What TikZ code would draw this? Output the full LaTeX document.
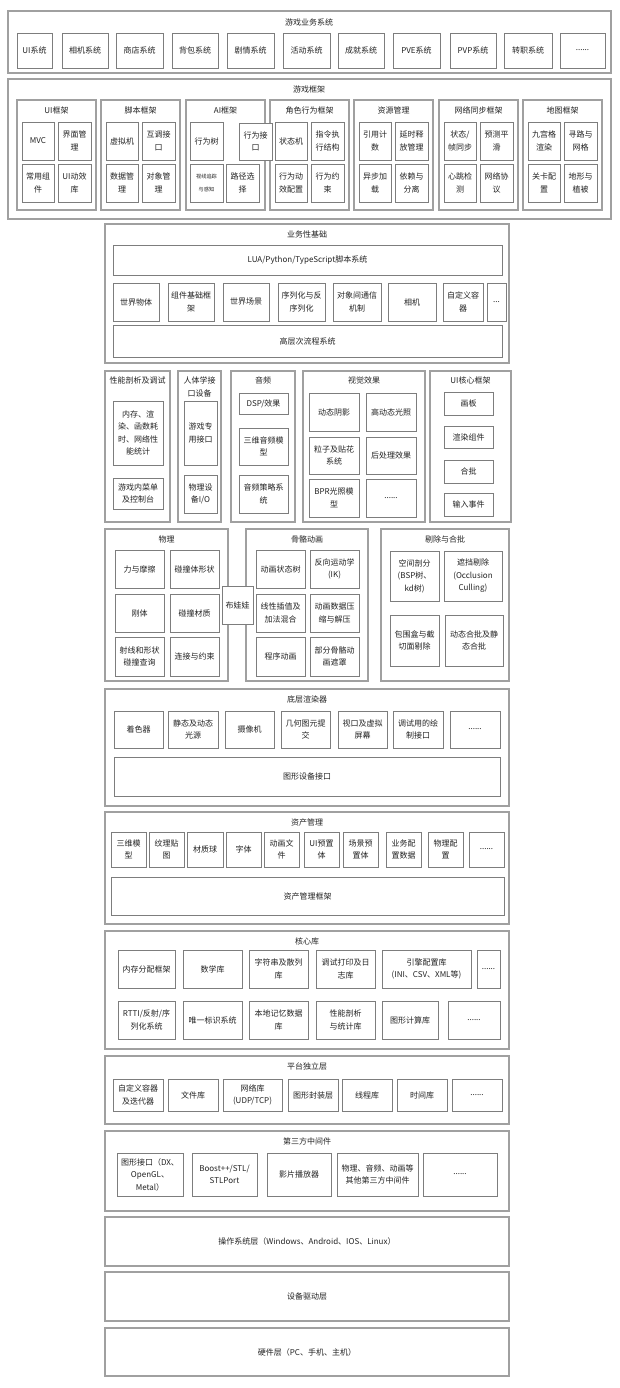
\documentclass[tikz,border=0pt]{standalone}
\usepackage{fontspec}
\setmainfont{Noto Sans CJK SC}
\definecolor{fc}{RGB}{160,160,160}
\definecolor{bc}{RGB}{125,125,125}
\definecolor{tc}{RGB}{35,35,35}
\newcommand{\fs}{\fontsize{8}{12.5}\selectfont}
\newcommand{\fst}{\fontsize{5.2}{7}\selectfont}
\tikzset{
  frm/.style={draw=fc, line width=1.1pt, fill=white, inner sep=0pt},
  box/.style={draw=bc, line width=0.8pt, fill=white, inner sep=0pt, align=center, text=tc, font=\fs},
  ttl/.style={inner sep=0pt, align=center, text=tc, font=\fs}
}
\newcommand{\mybox}[6]{\node[box, minimum width={#4pt-#2pt}, minimum height={#5pt-#3pt}] (#1) at ({(#2+#4)/2},{(#3+#5)/2}) {#6};}
\newcommand{\myframe}[5]{\node[frm, minimum width={#4pt-#2pt}, minimum height={#5pt-#3pt}] (#1) at ({(#2+#4)/2},{(#3+#5)/2}) {};}
\newcommand{\mytitle}[4]{\node[ttl] (#1) at (#2,#3) {#4};}
\begin{document}
\begin{tikzpicture}[x=1pt,y=-1pt]
\fill[white] (0,0) rectangle (619,1388);
\path[use as bounding box] (0,0) rectangle (619,1388);

% ===== 游戏业务系统 =====
\myframe{A}{8}{11}{611}{73}
\mytitle{At}{309}{22}{游戏业务系统}
\mybox{A1}{17}{33}{52}{68}{UI系统}
\mybox{A2}{62}{33}{108}{68}{相机系统}
\mybox{A3}{116}{33}{163}{68}{商店系统}
\mybox{A4}{172}{33}{218}{68}{背包系统}
\mybox{A5}{227}{33}{274}{68}{剧情系统}
\mybox{A6}{283}{33}{330}{68}{活动系统}
\mybox{A7}{338}{33}{384}{68}{成就系统}
\mybox{A8}{393}{33}{440}{68}{PVE系统}
\mybox{A9}{450}{33}{496}{68}{PVP系统}
\mybox{A10}{504}{33}{552}{68}{转职系统}
\mybox{A11}{560}{33}{605}{68}{......}

% ===== 游戏框架 =====
\myframe{B}{8}{79}{611}{219}
\mytitle{Bt}{309}{89}{游戏框架}
% UI框架
\myframe{B1}{17}{100}{96}{210}
\mytitle{B1t}{56.5}{110}{UI框架}
\mybox{B1a}{22}{122}{54}{160}{MVC}
\mybox{B1b}{58}{122}{91}{160}{界面管\\理}
\mybox{B1c}{22}{164}{54}{202}{常用组\\件}
\mybox{B1d}{58}{164}{91}{202}{UI动效\\库}
% 脚本框架
\myframe{B2}{101}{100}{180}{210}
\mytitle{B2t}{140.5}{110}{脚本框架}
\mybox{B2a}{106}{122}{138}{160}{虚拟机}
\mybox{B2b}{142}{122}{175}{160}{互调接\\口}
\mybox{B2c}{106}{164}{138}{202}{数据管\\理}
\mybox{B2d}{142}{164}{175}{202}{对象管\\理}
% AI框架
\myframe{B3}{186}{100}{265}{210}
\mytitle{B3t}{225.5}{110}{AI框架}
\mybox{B3a}{190}{122}{223}{160}{行为树}
\mybox{B3c}{190}{164}{223}{202}{\fst 视线追踪\\\fst 与感知}
\mybox{B3d}{226}{164}{259}{202}{路径选\\择}
% 角色行为框架
\myframe{B4}{270}{100}{349}{210}
\mytitle{B4t}{309.5}{110}{角色行为框架}
\mybox{B4a}{275}{122}{307}{160}{状态机}
\mybox{B4b}{311}{122}{344}{160}{指令执\\行结构}
\mybox{B4c}{275}{164}{307}{202}{行为动\\效配置}
\mybox{B4d}{311}{164}{344}{202}{行为约\\束}
\mybox{B3b}{239}{123}{272}{160}{行为接\\口}
% 资源管理
\myframe{B5}{354}{100}{433}{210}
\mytitle{B5t}{393.5}{110}{资源管理}
\mybox{B5a}{359}{122}{391}{160}{引用计\\数}
\mybox{B5b}{395}{122}{428}{160}{延时释\\放管理}
\mybox{B5c}{359}{164}{391}{202}{异步加\\载}
\mybox{B5d}{395}{164}{428}{202}{依赖与\\分离}
% 网络同步框架
\myframe{B6}{439}{100}{518}{210}
\mytitle{B6t}{478.5}{110}{网络同步框架}
\mybox{B6a}{444}{122}{476}{160}{状态/\\帧同步}
\mybox{B6b}{480}{122}{513}{160}{预测平\\滑}
\mybox{B6c}{444}{164}{476}{202}{心跳检\\测}
\mybox{B6d}{480}{164}{513}{202}{网络协\\议}
% 地图框架
\myframe{B7}{523}{100}{602}{210}
\mytitle{B7t}{562.5}{110}{地图框架}
\mybox{B7a}{528}{122}{560}{160}{九宫格\\渲染}
\mybox{B7b}{564}{122}{597}{160}{寻路与\\网格}
\mybox{B7c}{528}{164}{560}{202}{关卡配\\置}
\mybox{B7d}{564}{164}{597}{202}{地形与\\植被}

% ===== 业务性基础 =====
\myframe{C}{105}{224}{509}{363}
\mytitle{Ct}{307}{234}{业务性基础}
\mybox{C0}{113}{245}{502}{275}{LUA/Python/TypeScript脚本系统}
\mybox{C1}{113}{283}{159}{321}{世界物体}
\mybox{C2}{168}{283}{214}{321}{组件基础框\\架}
\mybox{C3}{223}{283}{269}{321}{世界场景}
\mybox{C4}{278}{283}{325}{321}{序列化与反\\序列化}
\mybox{C5}{333}{283}{381}{321}{对象间通信\\机制}
\mybox{C6}{388}{283}{436}{321}{相机}
\mybox{C7}{443}{283}{483}{321}{自定义容\\器}
\mybox{C8}{487}{283}{506}{321}{...}
\mybox{C9}{113}{325}{502}{357}{高层次流程系统}

% ===== 性能剖析 / 人体学 / 音频 / 视觉 / UI核心 =====
\myframe{D1}{105}{371}{170}{522}
\mytitle{D1t}{137.5}{380}{性能剖析及调试}
\mybox{D1a}{113}{401}{163}{465}{内存、渲\\染、函数耗\\时、网络性\\能统计}
\mybox{D1b}{113}{478}{163}{509}{游戏内菜单\\及控制台}

\myframe{D2}{178}{371}{221}{522}
\mytitle{D2t}{199.5}{387}{人体学接\\口设备}
\mybox{D2a}{184}{401}{217}{465}{游戏专\\用接口}
\mybox{D2b}{184}{475}{217}{513}{物理设\\备I/O}

\myframe{D3}{231}{371}{295}{522}
\mytitle{D3t}{263}{380}{音频}
\mybox{D3a}{239}{393}{288}{414}{DSP/效果}
\mybox{D3b}{239}{428}{288}{465}{三维音频模\\型}
\mybox{D3c}{239}{475}{288}{513}{音频策略系\\统}

\myframe{D4}{303}{371}{425}{522}
\mytitle{D4t}{364}{380}{视觉效果}
\mybox{D4a}{309}{393}{359}{431}{动态阴影}
\mybox{D4b}{366}{393}{416}{431}{高动态光照}
\mybox{D4c}{309}{437}{359}{474}{粒子及贴花\\系统}
\mybox{D4d}{366}{437}{416}{474}{后处理效果}
\mybox{D4e}{309}{479}{359}{517}{BPR光照模\\型}
\mybox{D4f}{366}{479}{416}{517}{......}

\myframe{D5}{430}{371}{511}{522}
\mytitle{D5t}{470.5}{380}{UI核心框架}
\mybox{D5a}{444}{392}{493}{415}{画板}
\mybox{D5b}{444}{426}{493}{448}{渲染组件}
\mybox{D5c}{444}{460}{493}{483}{合批}
\mybox{D5d}{444}{493}{493}{516}{输入事件}

% ===== 物理 / 骨骼动画 / 剔除与合批 =====
\myframe{E1}{105}{529}{228}{681}
\mytitle{E1t}{166.5}{539}{物理}
\mybox{E1a}{115}{550}{164}{588}{力与摩擦}
\mybox{E1b}{170}{550}{219}{588}{碰撞体形状}
\mybox{E1c}{115}{594}{164}{632}{刚体}
\mybox{E1d}{170}{594}{219}{632}{碰撞材质}
\mybox{E1e}{115}{637}{164}{676}{射线和形状\\碰撞查询}
\mybox{E1f}{170}{637}{219}{676}{连接与约束}

\myframe{E2}{246}{529}{368}{681}
\mytitle{E2t}{307}{539}{骨骼动画}
\mybox{E2a}{256}{550}{305}{588}{动画状态树}
\mybox{E2b}{310}{550}{359}{588}{反向运动学\\(IK)}
\mybox{E2c}{256}{594}{305}{632}{线性插值及\\加法混合}
\mybox{E2d}{310}{594}{359}{632}{动画数据压\\缩与解压}
\mybox{E2e}{256}{637}{305}{676}{程序动画}
\mybox{E2f}{310}{637}{359}{676}{部分骨骼动\\画遮罩}

\mybox{E0}{222}{586}{253}{624}{布娃娃}

\myframe{E3}{381}{529}{509}{681}
\mytitle{E3t}{445}{539}{剔除与合批}
\mybox{E3a}{390}{551}{439}{601}{空间剖分\\(BSP树、\\kd树)}
\mybox{E3b}{444}{551}{502}{601}{遮挡剔除\\(Occlusion\\Culling)}
\mybox{E3c}{390}{615}{439}{666}{包围盒与截\\切面剔除}
\mybox{E3d}{445}{615}{503}{666}{动态合批及静\\态合批}

% ===== 底层渲染器 =====
\myframe{F}{105}{689}{509}{806}
\mytitle{Ft}{307}{699}{底层渲染器}
\mybox{F1}{114}{711}{163}{748}{着色器}
\mybox{F2}{168}{711}{218}{748}{静态及动态\\光源}
\mybox{F3}{225}{711}{274}{748}{摄像机}
\mybox{F4}{281}{711}{330}{748}{几何图元提\\交}
\mybox{F5}{338}{711}{387}{748}{视口及虚拟\\屏幕}
\mybox{F6}{393}{711}{443}{748}{调试用的绘\\制接口}
\mybox{F7}{450}{711}{500}{748}{......}
\mybox{F8}{114}{757}{500}{796}{图形设备接口}

% ===== 资产管理 =====
\myframe{G}{105}{812}{509}{924}
\mytitle{Gt}{307}{822}{资产管理}
\mybox{G1}{111}{832}{146}{867}{三维模\\型}
\mybox{G2}{149}{832}{184}{867}{纹理贴\\图}
\mybox{G3}{187}{832}{223}{867}{材质球}
\mybox{G4}{226}{832}{261}{867}{字体}
\mybox{G5}{264}{832}{299}{867}{动画文\\件}
\mybox{G6}{304}{832}{339}{867}{UI预置\\体}
\mybox{G7}{343}{832}{378}{867}{场景预\\置体}
\mybox{G8}{386}{832}{421}{867}{业务配\\置数据}
\mybox{G9}{428}{832}{463}{867}{物理配\\置}
\mybox{G10}{469}{832}{504}{867}{......}
\mybox{G11}{111}{877}{504}{915}{资产管理框架}

% ===== 核心库 =====
\myframe{H}{105}{931}{509}{1049}
\mytitle{Ht}{307}{941}{核心库}
\mybox{H1}{118}{950}{175}{988}{内存分配框架}
\mybox{H2}{183}{950}{242}{988}{数学库}
\mybox{H3}{249}{950}{308}{988}{字符串及散列\\库}
\mybox{H4}{316}{950}{375}{988}{调试打印及日\\志库}
\mybox{H5}{382}{950}{471}{988}{引擎配置库\\(INI、CSV、XML等)}
\mybox{H6}{477}{950}{500}{988}{......}
\mybox{H7}{118}{1001}{175}{1039}{RTTI/反射/序\\列化系统}
\mybox{H8}{183}{1001}{242}{1039}{唯一标识系统}
\mybox{H9}{249}{1001}{308}{1039}{本地记忆数据\\库}
\mybox{H10}{316}{1001}{375}{1039}{性能剖析\\与统计库}
\mybox{H11}{382}{1001}{438}{1039}{图形计算库}
\mybox{H12}{448}{1001}{500}{1039}{......}

% ===== 平台独立层 =====
\myframe{I}{105}{1056}{509}{1124}
\mytitle{It}{307}{1066}{平台独立层}
\mybox{I1}{113}{1079}{163}{1111}{自定义容器\\及迭代器}
\mybox{I2}{168}{1079}{218}{1111}{文件库}
\mybox{I3}{223}{1079}{282}{1111}{网络库\\(UDP/TCP)}
\mybox{I4}{288}{1079}{338}{1111}{图形封装层}
\mybox{I5}{342}{1079}{392}{1111}{线程库}
\mybox{I6}{397}{1079}{447}{1111}{时间库}
\mybox{I7}{452}{1079}{502}{1111}{......}

% ===== 第三方中间件 =====
\myframe{J}{105}{1131}{509}{1211}
\mytitle{Jt}{307}{1141}{第三方中间件}
\mybox{J1}{117}{1153}{183}{1196}{图形接口（DX、\\OpenGL、\\Metal）}
\mybox{J2}{192}{1153}{257}{1196}{Boost++/STL/\\STLPort}
\mybox{J3}{267}{1153}{331}{1196}{影片播放器}
\mybox{J4}{337}{1153}{418}{1196}{物理、音频、动画等\\其他第三方中间件}
\mybox{J5}{423}{1153}{497}{1196}{......}

% ===== 底层 =====
\node[frm, minimum width=404pt, minimum height=49pt, text=tc, font=\fs] (K) at (307,1241.5) {操作系统层（Windows、Android、IOS、Linux）};
\node[frm, minimum width=404pt, minimum height=49pt, text=tc, font=\fs] (L) at (307,1296.5) {设备驱动层};
\node[frm, minimum width=404pt, minimum height=48pt, text=tc, font=\fs] (M) at (307,1352) {硬件层（PC、手机、主机）};
\end{tikzpicture}
\end{document}
